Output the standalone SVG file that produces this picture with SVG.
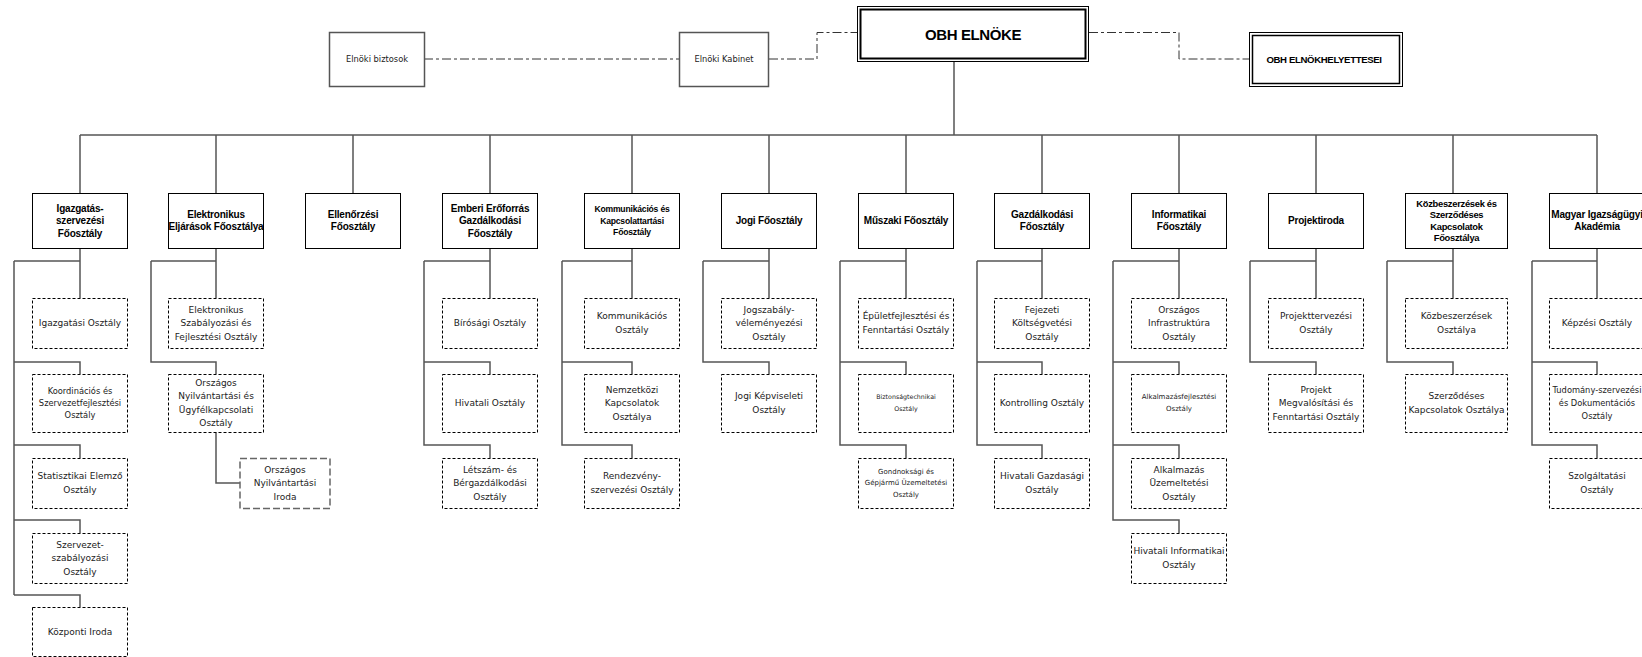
<svg xmlns="http://www.w3.org/2000/svg" width="1642" height="657" viewBox="0 0 1642 657">
<style>
.mb{fill:#fff;stroke:#000;stroke-width:1}
.sb{fill:#fff;stroke:#000;stroke-width:1;stroke-dasharray:3 2}
.ib{fill:#fff;stroke:#666;stroke-width:1.5;stroke-dasharray:7 3}
.tb{fill:#fff;stroke:#555;stroke-width:1.5}
.mt{font-family:"Liberation Sans",Arial,sans-serif;font-weight:bold;font-size:10px;letter-spacing:-0.2px;text-anchor:middle;fill:#000}
.st{font-family:"DejaVu Sans",Verdana,sans-serif;font-size:9px;text-anchor:middle;fill:#222}
.cn{fill:none;stroke:#555;stroke-width:1.5}
.dd{fill:none;stroke:#333;stroke-width:1;stroke-dasharray:9 3 3 3}
</style>
<rect width="1642" height="657" fill="#fff"/>
<g id="connectors">
<path class="dd" d="M424 59H679M769 59H817V32.5H857M1089 32.5H1179V59H1249"/>
<path class="cn" d="M954 62V135M80 135H1597M80 135V193M216 135V193M353 135V193M490 135V193M632 135V193M769 135V193M906 135V193M1042 135V193M1179 135V193M1316 135V193M1453 135V193M1597 135V193"/>
<path class="cn" d="M80 248V298M14 261H80M14 261V595M14 362H80V374M14 445H80V458M14 520H80V533M14 595H80V607"/>
<path class="cn" d="M216 248V298M151 261H216M151 261V362H216V374M216 432V483H240"/>
<path class="cn" d="M490 248V298M424 261H490M424 261V445H490V458M424 362H490V374"/>
<path class="cn" d="M632 248V298M562 261H632M562 261V445H632V458M562 362H632V374"/>
<path class="cn" d="M769 248V298M703 261H769M703 261V362H769V374"/>
<path class="cn" d="M906 248V298M840 261H906M840 261V445H906V458M840 362H906V374"/>
<path class="cn" d="M1042 248V298M977 261H1042M977 261V445H1042V458M977 362H1042V374"/>
<path class="cn" d="M1179 248V298M1113 261H1179M1113 261V520H1179V533M1113 362H1179V374M1113 445H1179V458"/>
<path class="cn" d="M1316 248V298M1250 261H1316M1250 261V362H1316V374"/>
<path class="cn" d="M1453 248V298M1387 261H1453M1387 261V362H1453V374"/>
<path class="cn" d="M1597 248V298M1532 261H1597M1532 261V445H1597V458M1532 362H1597V374"/>
</g>
<g id="elnoki-biztosok"><rect class="tb" x="329.5" y="32.5" width="95" height="54"/><text class="st" style="font-size:8.3px" x="377" y="62">Elnöki biztosok</text></g>
<g id="elnoki-kabinet"><rect class="tb" x="679.5" y="32.5" width="89" height="54"/><text class="st" style="font-size:8.3px" x="724" y="62">Elnöki Kabinet</text></g>
<g id="obh-elnoke"><rect x="857.5" y="6.5" width="231" height="55" fill="#fff" stroke="#000" stroke-width="1"/><rect x="860.5" y="9.5" width="225" height="49" fill="none" stroke="#000" stroke-width="2"/><text class="mt" style="font-size:15px;letter-spacing:-0.4px" x="973" y="39.5">OBH ELNÖKE</text></g>
<g id="obh-elnokhelyettesei"><rect x="1249.5" y="32.5" width="153" height="54" fill="#fff" stroke="#000" stroke-width="1"/><rect x="1252.5" y="35.5" width="147" height="48" fill="none" stroke="#000" stroke-width="1.5"/><text class="mt" style="font-size:9.6px;letter-spacing:-0.35px" x="1324" y="62.5">OBH ELNÖKHELYETTESEI</text></g>

<g id="igazgatas">
<rect class="mb" x="32.5" y="193.5" width="95" height="55"/>
<text class="mt" x="80"><tspan x="80" y="211.6">Igazgatás-</tspan><tspan x="80" y="224.1">szervezési</tspan><tspan x="80" y="236.6">Főosztály</tspan></text>
</g>
<g id="igazgatasi-osztaly"><rect class="sb" x="32.5" y="298.5" width="95" height="50"/><text class="st" x="80" y="326">Igazgatási Osztály</text></g>
<g id="koordinacios"><rect class="sb" x="32.5" y="374.5" width="95" height="58"/><text class="st" style="font-size:8.3px"><tspan x="80" y="394">Koordinációs és</tspan><tspan x="80" y="406">Szervezetfejlesztési</tspan><tspan x="80" y="418">Osztály</tspan></text></g>
<g id="statisztikai"><rect class="sb" x="32.5" y="458.5" width="95" height="50"/><text class="st"><tspan x="80" y="479.25">Statisztikai Elemző</tspan><tspan x="80" y="492.75">Osztály</tspan></text></g>
<g id="szervezet-szabalyozasi"><rect class="sb" x="32.5" y="533.5" width="95" height="50"/><text class="st"><tspan x="80" y="547.5">Szervezet-</tspan><tspan x="80" y="561">szabályozási</tspan><tspan x="80" y="574.5">Osztály</tspan></text></g>
<g id="kozponti-iroda"><rect class="sb" x="32.5" y="607.5" width="95" height="49"/><text class="st" x="80" y="634.5">Központi Iroda</text></g>

<g id="elektronikus">
<rect class="mb" x="168.5" y="193.5" width="95" height="55"/>
<text class="mt"><tspan x="216" y="217.9">Elektronikus</tspan><tspan x="216" y="230.4">Eljárások Főosztálya</tspan></text>
</g>
<g id="elektronikus-szabalyozasi"><rect class="sb" x="168.5" y="298.5" width="95" height="50"/><text class="st"><tspan x="216" y="312.5">Elektronikus</tspan><tspan x="216" y="326">Szabályozási és</tspan><tspan x="216" y="339.5">Fejlesztési Osztály</tspan></text></g>
<g id="orszagos-nyilvantartasi-osztaly"><rect class="sb" x="168.5" y="374.5" width="95" height="58"/><text class="st"><tspan x="216" y="385.75">Országos</tspan><tspan x="216" y="399.25">Nyilvántartási és</tspan><tspan x="216" y="412.75">Ügyfélkapcsolati</tspan><tspan x="216" y="426.25">Osztály</tspan></text></g>
<g id="orszagos-nyilvantartasi-iroda"><rect class="ib" x="240" y="458.5" width="90" height="50"/><text class="st"><tspan x="285" y="472.5">Országos</tspan><tspan x="285" y="486">Nyilvántartási</tspan><tspan x="285" y="499.5">Iroda</tspan></text></g>

<g id="ellenorzesi">
<rect class="mb" x="305.5" y="193.5" width="95" height="55"/>
<text class="mt"><tspan x="353" y="217.9">Ellenőrzési</tspan><tspan x="353" y="230.4">Főosztály</tspan></text>
</g>

<g id="emberi-eroforras">
<rect class="mb" x="442.5" y="193.5" width="95" height="55"/>
<text class="mt"><tspan x="490" y="211.6">Emberi Erőforrás</tspan><tspan x="490" y="224.1">Gazdálkodási</tspan><tspan x="490" y="236.6">Főosztály</tspan></text>
</g>
<g id="birosagi"><rect class="sb" x="442.5" y="298.5" width="95" height="50"/><text class="st" x="490" y="326">Bírósági Osztály</text></g>
<g id="hivatali-osztaly"><rect class="sb" x="442.5" y="374.5" width="95" height="58"/><text class="st" x="490" y="406">Hivatali Osztály</text></g>
<g id="letszam"><rect class="sb" x="442.5" y="458.5" width="95" height="50"/><text class="st"><tspan x="490" y="472.5">Létszám- és</tspan><tspan x="490" y="486">Bérgazdálkodási</tspan><tspan x="490" y="499.5">Osztály</tspan></text></g>

<g id="kommunikacios">
<rect class="mb" x="584.5" y="193.5" width="95" height="55"/>
<text class="mt" style="font-size:8.6px"><tspan x="632" y="212.3">Kommunikációs és</tspan><tspan x="632" y="223.6">Kapcsolattartási</tspan><tspan x="632" y="234.9">Főosztály</tspan></text>
</g>
<g id="kommunikacios-osztaly"><rect class="sb" x="584.5" y="298.5" width="95" height="50"/><text class="st"><tspan x="632" y="319.25">Kommunikációs</tspan><tspan x="632" y="332.75">Osztály</tspan></text></g>
<g id="nemzetkozi"><rect class="sb" x="584.5" y="374.5" width="95" height="58"/><text class="st"><tspan x="632" y="392.5">Nemzetközi</tspan><tspan x="632" y="406">Kapcsolatok</tspan><tspan x="632" y="419.5">Osztálya</tspan></text></g>
<g id="rendezveny"><rect class="sb" x="584.5" y="458.5" width="95" height="50"/><text class="st"><tspan x="632" y="479.25">Rendezvény-</tspan><tspan x="632" y="492.75">szervezési Osztály</tspan></text></g>

<g id="jogi">
<rect class="mb" x="721.5" y="193.5" width="95" height="55"/>
<text class="mt" x="769" y="224.1">Jogi Főosztály</text>
</g>
<g id="jogszabaly"><rect class="sb" x="721.5" y="298.5" width="95" height="50"/><text class="st"><tspan x="769" y="312.5">Jogszabály-</tspan><tspan x="769" y="326">véleményezési</tspan><tspan x="769" y="339.5">Osztály</tspan></text></g>
<g id="jogi-kepviseleti"><rect class="sb" x="721.5" y="374.5" width="95" height="58"/><text class="st"><tspan x="769" y="399.25">Jogi Képviseleti</tspan><tspan x="769" y="412.75">Osztály</tspan></text></g>

<g id="muszaki">
<rect class="mb" x="858.5" y="193.5" width="95" height="55"/>
<text class="mt" x="906" y="224.1">Műszaki Főosztály</text>
</g>
<g id="epuletfejlesztesi"><rect class="sb" x="858.5" y="298.5" width="95" height="50"/><text class="st"><tspan x="906" y="319.25">Épületfejlesztési és</tspan><tspan x="906" y="332.75">Fenntartási Osztály</tspan></text></g>
<g id="biztonsagtechnikai"><rect class="sb" x="858.5" y="374.5" width="95" height="58"/><text class="st" style="font-size:6.3px"><tspan x="906" y="399.2">Biztonságtechnikai</tspan><tspan x="906" y="411.2">Osztály</tspan></text></g>
<g id="gondnoksagi"><rect class="sb" x="858.5" y="458.5" width="95" height="50"/><text class="st" style="font-size:7px"><tspan x="906" y="474.2">Gondnoksági és</tspan><tspan x="906" y="485.4">Gépjármű Üzemeltetési</tspan><tspan x="906" y="496.6">Osztály</tspan></text></g>

<g id="gazdalkodasi">
<rect class="mb" x="994.5" y="193.5" width="95" height="55"/>
<text class="mt"><tspan x="1042" y="217.9">Gazdálkodási</tspan><tspan x="1042" y="230.4">Főosztály</tspan></text>
</g>
<g id="fejezeti"><rect class="sb" x="994.5" y="298.5" width="95" height="50"/><text class="st"><tspan x="1042" y="312.5">Fejezeti</tspan><tspan x="1042" y="326">Költségvetési</tspan><tspan x="1042" y="339.5">Osztály</tspan></text></g>
<g id="kontrolling"><rect class="sb" x="994.5" y="374.5" width="95" height="58"/><text class="st" x="1042" y="406">Kontrolling Osztály</text></g>
<g id="hivatali-gazdasagi"><rect class="sb" x="994.5" y="458.5" width="95" height="50"/><text class="st"><tspan x="1042" y="479.25">Hivatali Gazdasági</tspan><tspan x="1042" y="492.75">Osztály</tspan></text></g>

<g id="informatikai">
<rect class="mb" x="1131.5" y="193.5" width="95" height="55"/>
<text class="mt"><tspan x="1179" y="217.9">Informatikai</tspan><tspan x="1179" y="230.4">Főosztály</tspan></text>
</g>
<g id="orszagos-infrastruktura"><rect class="sb" x="1131.5" y="298.5" width="95" height="50"/><text class="st"><tspan x="1179" y="312.5">Országos</tspan><tspan x="1179" y="326">Infrastruktúra</tspan><tspan x="1179" y="339.5">Osztály</tspan></text></g>
<g id="alkalmazasfejlesztesi"><rect class="sb" x="1131.5" y="374.5" width="95" height="58"/><text class="st" style="font-size:7px"><tspan x="1179" y="399.4">Alkalmazásfejlesztési</tspan><tspan x="1179" y="411.4">Osztály</tspan></text></g>
<g id="alkalmazas-uzemeltetesi"><rect class="sb" x="1131.5" y="458.5" width="95" height="50"/><text class="st"><tspan x="1179" y="472.5">Alkalmazás</tspan><tspan x="1179" y="486">Üzemeltetési</tspan><tspan x="1179" y="499.5">Osztály</tspan></text></g>
<g id="hivatali-informatikai"><rect class="sb" x="1131.5" y="533.5" width="95" height="50"/><text class="st"><tspan x="1179" y="554.25">Hivatali Informatikai</tspan><tspan x="1179" y="567.75">Osztály</tspan></text></g>

<g id="projektiroda">
<rect class="mb" x="1268.5" y="193.5" width="95" height="55"/>
<text class="mt" x="1316" y="224.1">Projektiroda</text>
</g>
<g id="projekttervezesi"><rect class="sb" x="1268.5" y="298.5" width="95" height="50"/><text class="st"><tspan x="1316" y="319.25">Projekttervezési</tspan><tspan x="1316" y="332.75">Osztály</tspan></text></g>
<g id="projekt-megvalositasi"><rect class="sb" x="1268.5" y="374.5" width="95" height="58"/><text class="st"><tspan x="1316" y="392.5">Projekt</tspan><tspan x="1316" y="406">Megvalósítási és</tspan><tspan x="1316" y="419.5">Fenntartási Osztály</tspan></text></g>

<g id="kozbeszerzesek">
<rect class="mb" x="1405.5" y="193.5" width="102" height="55"/>
<text class="mt" style="font-size:9.4px;letter-spacing:-0.3px"><tspan x="1456.5" y="206.6">Közbeszerzések és</tspan><tspan x="1456.5" y="218.1">Szerződéses</tspan><tspan x="1456.5" y="229.6">Kapcsolatok</tspan><tspan x="1456.5" y="241.1">Főosztálya</tspan></text>
</g>
<g id="kozbeszerzesek-osztalya"><rect class="sb" x="1405.5" y="298.5" width="102" height="50"/><text class="st"><tspan x="1456.5" y="319.25">Közbeszerzések</tspan><tspan x="1456.5" y="332.75">Osztálya</tspan></text></g>
<g id="szerzodeses"><rect class="sb" x="1405.5" y="374.5" width="102" height="58"/><text class="st"><tspan x="1456.5" y="399.25">Szerződéses</tspan><tspan x="1456.5" y="412.75">Kapcsolatok Osztálya</tspan></text></g>

<g id="magyar-igazsagugyi-akademia">
<rect class="mb" x="1549.5" y="193.5" width="95" height="55"/>
<text class="mt"><tspan x="1597" y="217.9">Magyar Igazságügyi</tspan><tspan x="1597" y="230.4">Akadémia</tspan></text>
</g>
<g id="kepzesi"><rect class="sb" x="1549.5" y="298.5" width="95" height="50"/><text class="st" x="1597" y="326">Képzési Osztály</text></g>
<g id="tudomany"><rect class="sb" x="1549.5" y="374.5" width="95" height="58"/><text class="st" style="font-size:8.3px"><tspan x="1597" y="392.8">Tudomány-szervezési</tspan><tspan x="1597" y="405.8">és Dokumentációs</tspan><tspan x="1597" y="418.8">Osztály</tspan></text></g>
<g id="szolgaltatasi"><rect class="sb" x="1549.5" y="458.5" width="95" height="50"/><text class="st"><tspan x="1597" y="479.25">Szolgáltatási</tspan><tspan x="1597" y="492.75">Osztály</tspan></text></g>
</svg>
